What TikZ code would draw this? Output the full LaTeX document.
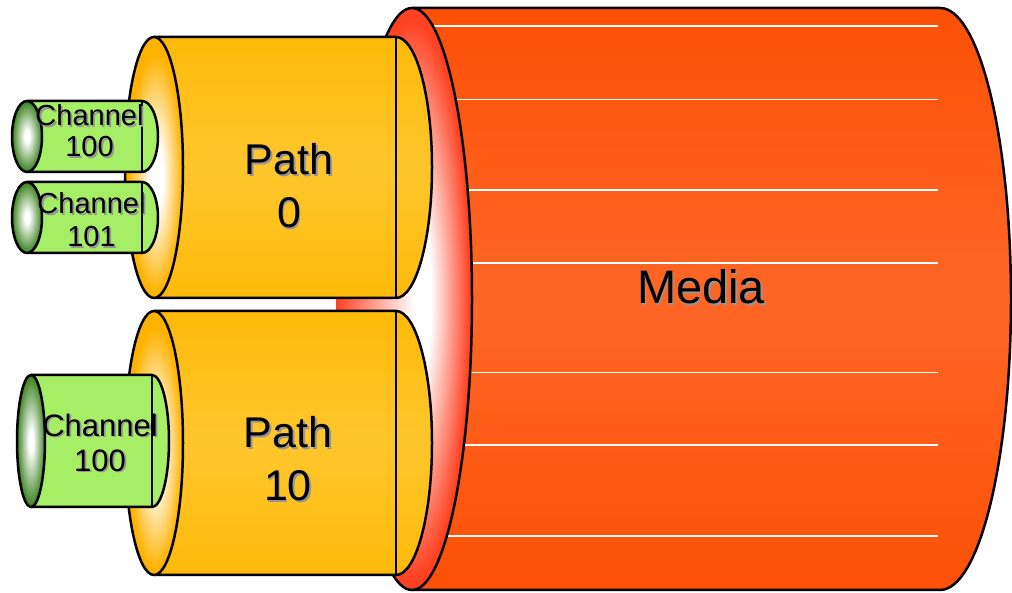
\documentclass[tikz,border=0pt]{standalone}
\usepackage{fontspec}
\setmainfont{Liberation Sans}
\usepackage{tikz}

\definecolor{mediadeep}{RGB}{252,80,6}
\definecolor{medialight}{RGB}{255,102,38}
\definecolor{mediarim}{RGB}{255,66,34}
\definecolor{pathdeep}{RGB}{253,186,10}
\definecolor{pathlight}{RGB}{255,198,44}
\definecolor{pathrim}{RGB}{255,178,0}
\definecolor{chanfill}{RGB}{166,238,102}
\definecolor{chanrim}{RGB}{58,130,30}
\definecolor{txtshadow}{RGB}{150,150,150}

% end faces: white glow in the middle, rim colour at the edge
\pgfdeclareradialshading{mediaglow}{\pgfpoint{0bp}{0bp}}{color(0bp)=(white); color(8bp)=(white); color(24bp)=(mediarim); color(50bp)=(mediarim)}
\pgfdeclareradialshading{pathglow}{\pgfpoint{2bp}{-2bp}}{color(0bp)=(white); color(6bp)=(white); color(23bp)=(pathrim); color(50bp)=(pathrim)}
\pgfdeclareradialshading{changlow}{\pgfpoint{0bp}{0bp}}{color(0bp)=(white); color(4bp)=(white); color(25bp)=(chanrim); color(50bp)=(chanrim)}

\tikzset{
  outline/.style  ={draw=black, line width=2.5pt, line join=round},
  mediabody/.style={outline, top color=mediadeep, bottom color=mediadeep, middle color=medialight},
  mediaface/.style={outline, shade, shading=mediaglow},
  pathbody/.style ={outline, top color=pathdeep, bottom color=pathdeep, middle color=pathlight},
  pathface/.style ={outline, shade, shading=pathglow},
  chanbody/.style ={outline, fill=chanfill},
  chanface/.style ={outline, shade, shading=changlow},
  stripe/.style   ={white, line width=1.1pt},
  mediatxt/.style ={inner sep=0pt, font=\fontsize{47}{56}\selectfont},
  pathtxt/.style  ={align=center, inner sep=0pt, font=\fontsize{43}{53}\selectfont},
  chantxt/.style  ={align=center, inner sep=0pt, font=\fontsize{29}{31}\selectfont},
}

% cylinder lying on its side: body style, face style, left x, right x,
% centre y, half height, face x radius, cap x radius
\newcommand{\cyl}[8]{%
  \path[#1] (#3,#5+#6) -- (#4,#5+#6)
    arc[start angle=90, end angle=-90, x radius=#8pt, y radius=#6pt]
    -- (#3,#5-#6) -- cycle;
  \draw[outline] (#4,#5+#6) -- (#4,#5-#6);
  \path[#2] (#3,#5) ellipse[x radius=#7pt, y radius=#6pt];
}

% label with a soft grey drop shadow
\newcommand{\castlabel}[4]{%
  \node[#1, text=txtshadow, xshift=1.8pt, yshift=-1.8pt] (#2-sh) at (#3) {#4};
  \node[#1] (#2) at (#3) {#4};
}

\begin{document}
\begin{tikzpicture}[x=1pt, y=1pt]
  \useasboundingbox (0,0) rectangle (1012,593);

  % the big media cylinder
  \path[mediabody] (412,585) -- (940,585)
    arc[start angle=90, end angle=-90, x radius=71pt, y radius=291pt]
    -- (412,3) -- cycle;
  \foreach \y in {567,493.5,403,330,220.5,148,57}
    \draw[stripe] (412,\y) -- (938,\y);
  \path[mediaface] (412,294) ellipse[x radius=60pt, y radius=291pt];
  \path[left color=mediarim, right color=white] (336,281) rectangle (414,296);

  % paths
  \cyl{pathbody}{pathface}{154}{396}{425.5}{130.5}{29}{36}
  \cyl{pathbody}{pathface}{154}{396}{150}{132}{29}{36}

  % channels
  \cyl{chanbody}{chanface}{27}{142}{456.5}{35.5}{15}{16}
  \cyl{chanbody}{chanface}{27}{142}{375.5}{35.5}{15}{16}
  \cyl{chanbody}{chanface}{31}{152}{152}{66}{14}{17}

  % labels
  \castlabel{mediatxt}{media}{701,306.5}{Media}
  \castlabel{pathtxt}{path0}{289,407}{Path\\0}
  \castlabel{pathtxt}{path10}{288,134.5}{Path\\10}
  \castlabel{chantxt}{chanA}{89.5,462}{Channel\\100}
  \castlabel{chantxt, font=\fontsize{29}{33}\selectfont}{chanB}{91.5,373.5}{Channel\\101}
  \castlabel{chantxt, font=\fontsize{31}{35}\selectfont}{chanC}{100,150.5}{Channel\\100}
\end{tikzpicture}
\end{document}
